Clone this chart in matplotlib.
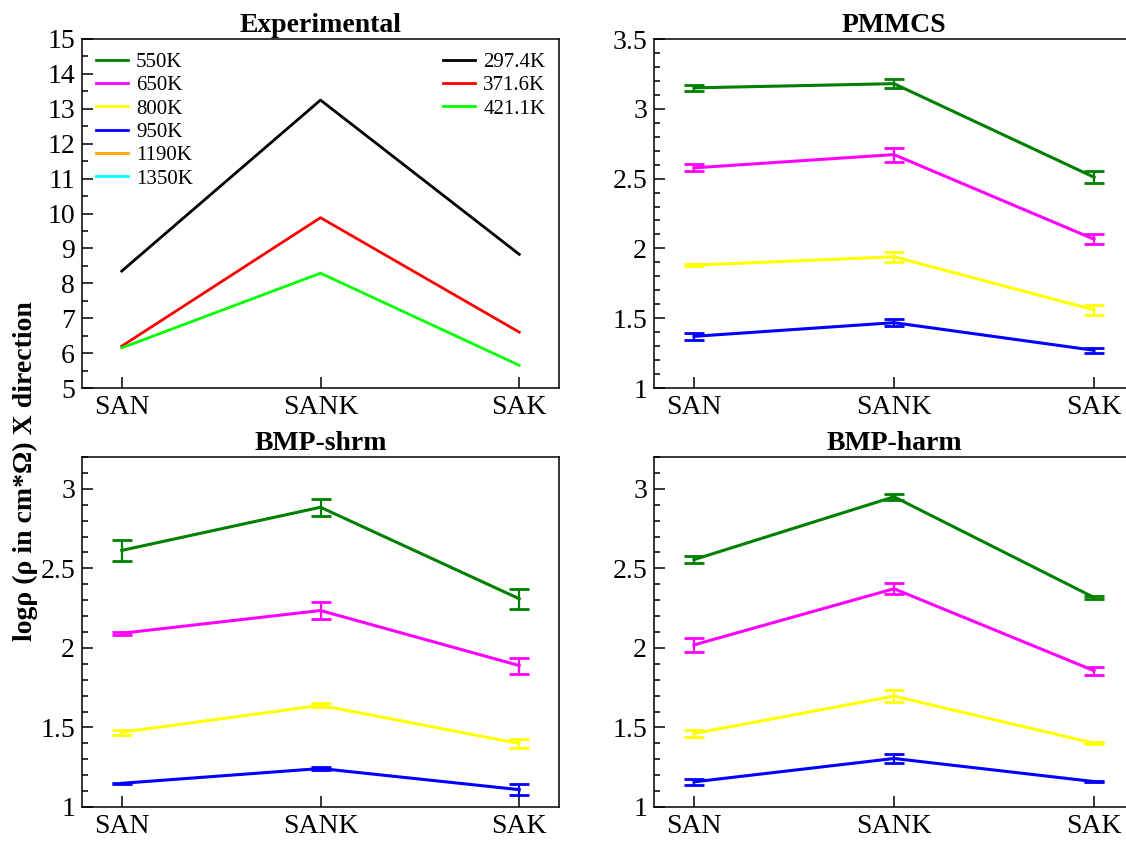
import numpy as np
import matplotlib
matplotlib.use("Agg")
import matplotlib.pyplot as plt
from matplotlib.lines import Line2D

plt.rcParams['font.family'] = ['Liberation Serif', 'DejaVu Serif']

samples = ['SAN', 'SANK', 'SAK']

# ---------------- Experimental ----------------
exp_labels = ['297.4K', '371.6K', '421.1K']
exp_colors = ['black', 'red', '#00ff00']
exp_297 = [8.35, 13.25, 8.83]
exp_371 = [6.20, 9.88, 6.60]
exp_421 = [6.15, 8.29, 5.65]

# ---------------- simulations ----------------
sim_labels = ['550K', '650K', '800K', '950K', '1190K', '1350K']
sim_colors = ['#008000', '#ff00ff', '#ffff00', '#0000ff', '#ffa500', '#00ffff']

# PMMCS
pm_550 = [3.15, 3.18, 2.51]
pm_550_err = [0.02, 0.03, 0.043]
pm_650 = [2.577, 2.672, 2.066]
pm_650_err = [0.026, 0.05, 0.035]
pm_800 = [1.88, 1.94, 1.56]
pm_800_err = [0.005, 0.036, 0.038]
pm_950 = [1.37, 1.468, 1.27]
pm_950_err = [0.027, 0.026, 0.017]

# BMP-shrm
sh_550 = [2.613, 2.884, 2.309]
sh_550_err = [0.065, 0.053, 0.064]
sh_650 = [2.092, 2.235, 1.889]
sh_650_err = [0.01, 0.055, 0.05]
sh_800 = [1.47, 1.639, 1.399]
sh_800_err = [0.015, 0.013, 0.028]
sh_950 = [1.149, 1.242, 1.109]
sh_950_err = [0.005, 0.01, 0.034]

# BMP-harm
hm_550 = [2.555, 2.95, 2.317]
hm_550_err = [0.021, 0.018, 0.007]
hm_650 = [2.019, 2.372, 1.857]
hm_650_err = [0.045, 0.036, 0.025]
hm_800 = [1.462, 1.697, 1.401]
hm_800_err = [0.019, 0.04, 0.007]
hm_950 = [1.158, 1.305, 1.16]
hm_950_err = [0.017, 0.026, 0.004]

FS = 20
x = np.arange(len(samples))

fig = plt.figure(figsize=(11.26, 8.41), dpi=100)
W, H = 1126.0, 841.0
ax_exp = fig.add_axes([82 / W, 1 - 388 / H, 477 / W, 349 / H])
ax_pm = fig.add_axes([654 / W, 1 - 388 / H, 480 / W, 349 / H])
ax_sh = fig.add_axes([82 / W, 1 - 807 / H, 477 / W, 350 / H])
ax_hm = fig.add_axes([654 / W, 1 - 807 / H, 480 / W, 350 / H])


def style(ax, title, ylim, major, minor):
    ax.set_xlim(-0.2, 2.2)
    ax.set_ylim(*ylim)
    ax.set_xticks(x)
    ax.set_xticklabels(samples)
    ax.set_yticks(np.arange(ylim[0], ylim[1] + 1e-9, major))
    ax.set_yticks(np.arange(ylim[0], ylim[1] + 1e-9, minor), minor=True)
    ax.yaxis.set_major_formatter(matplotlib.ticker.FormatStrFormatter('%g'))
    ax.tick_params(which='both', direction='in', top=False, right=False,
                   labelsize=FS, width=1.1)
    ax.tick_params(which='major', length=8, pad=5)
    ax.tick_params(which='minor', length=4)
    ax.tick_params(axis='x', which='minor', bottom=False)
    for s in ax.spines.values():
        s.set_linewidth(1.1)
    ax.set_title(title, fontsize=FS, fontweight='bold', pad=5)


# Experimental panel
for vals, c in zip([exp_297, exp_371, exp_421], exp_colors):
    ax_exp.plot(x, vals, color=c, lw=2.0)
style(ax_exp, 'Experimental', (5, 15), 1, 0.5)

handles_sim = [Line2D([], [], color=c, lw=2.0) for c in sim_colors]
leg1 = ax_exp.legend(handles_sim, sim_labels, loc='upper left', frameon=False,
                     fontsize=15, handlelength=1.55, handletextpad=0.4,
                     labelspacing=0.18, borderaxespad=0.35, borderpad=0.3)
ax_exp.add_artist(leg1)
handles_exp = [Line2D([], [], color=c, lw=2.0) for c in exp_colors]
ax_exp.legend(handles_exp, exp_labels, loc='upper right', frameon=False,
              fontsize=15, handlelength=1.55, handletextpad=0.4,
              labelspacing=0.18, borderaxespad=0.35, borderpad=0.3)


def draw_sim(ax, series, errs):
    for vals, e, c in zip(series, errs, sim_colors):
        ax.errorbar(x, vals, yerr=e, color=c, lw=2.2, capsize=7,
                    capthick=2.0, elinewidth=1.6)


draw_sim(ax_pm, [pm_550, pm_650, pm_800, pm_950],
         [pm_550_err, pm_650_err, pm_800_err, pm_950_err])
style(ax_pm, 'PMMCS', (1, 3.5), 0.5, 0.1)

draw_sim(ax_sh, [sh_550, sh_650, sh_800, sh_950],
         [sh_550_err, sh_650_err, sh_800_err, sh_950_err])
style(ax_sh, 'BMP-shrm', (1, 3.2), 0.5, 0.1)
ax_sh.set_yticks(np.arange(1, 3.01, 0.5))

draw_sim(ax_hm, [hm_550, hm_650, hm_800, hm_950],
         [hm_550_err, hm_650_err, hm_800_err, hm_950_err])
style(ax_hm, 'BMP-harm', (1, 3.2), 0.5, 0.1)
ax_hm.set_yticks(np.arange(1, 3.01, 0.5))

fig.text(25 / W, 1 - 471 / H, 'logρ (ρ in cm*Ω) X direction', rotation=90,
         fontsize=FS, fontweight='bold', ha='center', va='center')

fig.savefig('out.png', dpi=100)
